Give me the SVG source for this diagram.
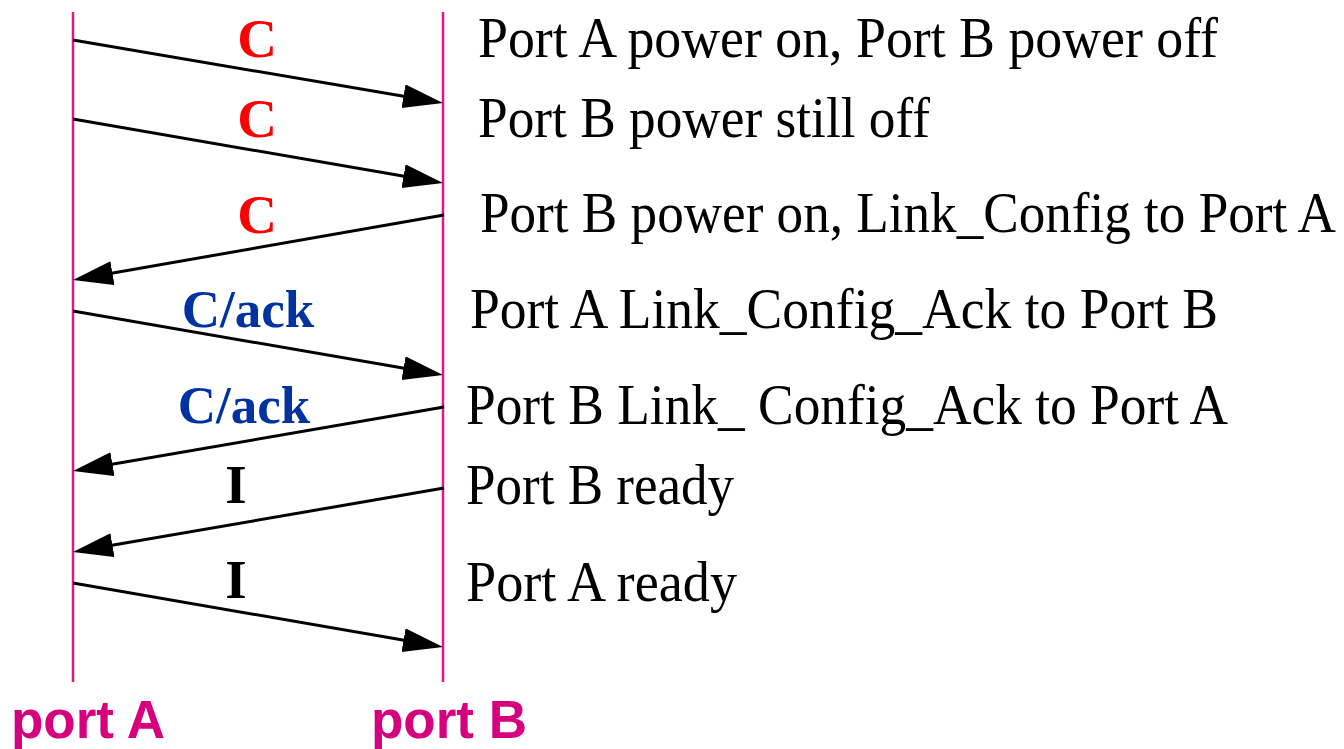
<svg xmlns="http://www.w3.org/2000/svg" width="1344" height="749" viewBox="0 0 1344 749">
<defs>
<style>
.life{stroke:#e0168c;stroke-width:2.5;fill:none}
.msg{stroke:#000;stroke-width:3;fill:none;marker-end:url(#ah)}
.desc{font-family:"Liberation Serif","Times New Roman",serif;font-size:58px;fill:#000}
.lbl{font-family:"Liberation Serif","Times New Roman",serif;font-weight:bold;font-size:55px;text-anchor:middle}
.red{fill:#ff0000}
.blue{fill:#0033a0;font-size:53px}
.blk{fill:#000}
.port{font-family:"Liberation Sans",Arial,sans-serif;font-weight:bold;font-size:53px;fill:#d6007f}
</style>
<marker id="ah" markerUnits="userSpaceOnUse" markerWidth="42" markerHeight="26" refX="30" refY="12" orient="auto" viewBox="0 0 42 26">
<path d="M0,0 L40,12 L0,24 Z" fill="#000"/>
</marker>
</defs>
<rect width="1344" height="749" fill="#fff"/>
<g id="portA">
<line class="life" x1="73" y1="12" x2="73" y2="682"/>
<text class="port" x="11" y="738">port A</text>
</g>
<g id="portB">
<line class="life" x1="443" y1="12" x2="443" y2="682"/>
<text class="port" x="371" y="738">port B</text>
</g>
<g id="connectors">
<line class="msg" x1="73" y1="40" x2="433.1" y2="101.3"/>
<line class="msg" x1="73" y1="119" x2="433.1" y2="181.3"/>
<line class="msg" x1="444" y1="215" x2="82.9" y2="278.3"/>
<line class="msg" x1="73" y1="311" x2="433.1" y2="373.3"/>
<line class="msg" x1="444" y1="407" x2="82.9" y2="469.3"/>
<line class="msg" x1="444" y1="488" x2="82.9" y2="550.3"/>
<line class="msg" x1="73" y1="583" x2="433.1" y2="645.3"/>
</g>
<g id="labels">
<text class="lbl red" x="257" y="57">C</text>
<text class="lbl red" x="257" y="137">C</text>
<text class="lbl red" x="257" y="233">C</text>
<text class="lbl blue" x="248" y="327">C/ack</text>
<text class="lbl blue" x="244" y="423">C/ack</text>
<text class="lbl blk" x="236" y="503">I</text>
<text class="lbl blk" x="236" y="598">I</text>
</g>
<g id="descriptions">
<text class="desc" x="478" y="57" textLength="740" lengthAdjust="spacingAndGlyphs">Port A power on, Port B power off</text>
<text class="desc" x="478" y="137" textLength="452" lengthAdjust="spacingAndGlyphs">Port B power still off</text>
<text class="desc" x="480" y="232" textLength="856" lengthAdjust="spacingAndGlyphs">Port B power on, Link_Config to Port A</text>
<text class="desc" x="470" y="328" textLength="748" lengthAdjust="spacingAndGlyphs">Port A Link_Config_Ack to Port B</text>
<text class="desc" x="466" y="424" textLength="762" lengthAdjust="spacingAndGlyphs">Port B Link_ Config_Ack to Port A</text>
<text class="desc" x="466" y="504" textLength="268" lengthAdjust="spacingAndGlyphs">Port B ready</text>
<text class="desc" x="466" y="601" textLength="271" lengthAdjust="spacingAndGlyphs">Port A ready</text>
</g>
</svg>
